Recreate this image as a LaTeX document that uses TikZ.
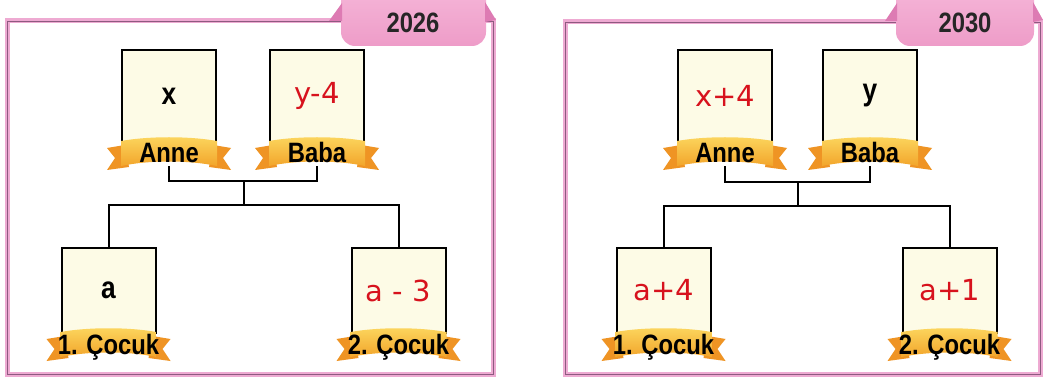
\documentclass[tikz,border=0pt]{standalone}
\usepackage{fontspec}
\newfontfamily\labelfont[FakeStretch=0.85]{Liberation Sans}
\newfontfamily\handfont{DejaVu Sans}
\usepackage{tikz}

\definecolor{framepink}{HTML}{EEAAD2}
\definecolor{framedark}{HTML}{8E5A80}
\definecolor{tabpink}{HTML}{EE9CC8}
\definecolor{tabtop}{HTML}{F6B9DA}
\definecolor{tabdark}{HTML}{DD7BB3}
\definecolor{boxfill}{HTML}{FDFBE6}
\definecolor{ribbontop}{HTML}{FCD65E}
\definecolor{ribbonbot}{HTML}{F2A52B}
\definecolor{ribbondark}{HTML}{EF9424}
\definecolor{handred}{HTML}{D7121D}

\begin{document}
\begin{tikzpicture}
            [x=1pt,y=-1pt,
            frame/.style={draw=framepink,line width=5pt},
            frameline/.style={draw=framedark,line width=0.8pt},
            box/.style={draw,line width=2pt,fill=boxfill,minimum width=94pt,minimum height=92pt,inner sep=0pt,
              font=\labelfont\bfseries\fontsize{31}{32}\selectfont},
            kidbox/.style={box,minimum height=85pt},
            hand/.style={font=\handfont\fontsize{29}{30}\selectfont,text=handred},
            lbl/.style={font=\labelfont\bfseries\fontsize{28}{30}\selectfont,text height=20pt,text depth=0pt,inner sep=3pt},
            yearlbl/.style={font=\labelfont\bfseries\fontsize{28}{30}\selectfont,text=black!85},
            link/.style={draw,line width=2pt},
            ribbon/.pic={
              \fill[ribbondark] (-44,2) -- (-62,5) -- (-54,15) -- (-62,27) -- (-40,24) -- cycle;
              \fill[ribbondark] (44,2) -- (62,5) -- (54,15) -- (62,27) -- (40,24) -- cycle;
              \shade[top color=ribbontop,bottom color=ribbonbot] (-48,-2) .. controls (-20,-7) and (20,-7) .. (48,-2)
                -- (48,23) .. controls (20,17) and (-20,17) .. (-48,23) -- cycle;
              \node[lbl] (-lbl) at (0,10) {#1};
            }]
            \useasboundingbox[fill=white] (0,0) rectangle (1043,379);

            % 2026
            \draw[frame] (7,21) rectangle (493,374);
            \draw[frameline] (7,21) rectangle (493,374);
            \shade[top color=tabtop,bottom color=tabpink,rounded corners=14] (341,-20) rectangle (486,46);
            \fill[tabdark] (329,21) -- (342,3) -- (342,21) -- cycle;
            \fill[tabdark] (485,2) -- (496,20) -- (485,22) -- cycle;
            \node[yearlbl] (l-year) at (413,23) {2026};

            \node[box] (l-anne) at (169,96) {x};
            \node[box,hand] (l-baba) at (317,96) {y-4};
            \node[kidbox] (l-kid1) at (108.5,290.5) {a};
            \node[kidbox,hand] (l-kid2) at (398.5,290.5) {a - 3};
            \pic (l-anne) at (l-anne.south) {ribbon=Anne};
            \pic (l-baba) at (l-baba.south) {ribbon=Baba};
            \pic (l-kid1) at (l-kid1.south) {ribbon=1. Çocuk};
            \pic (l-kid2) at (l-kid2.south) {ribbon=2. Çocuk};

            \coordinate (l-join) at (244,181);
            \coordinate (l-bar) at (244,205);
            \draw[link] (l-anne-lbl.south) |- (l-join) -| (l-baba-lbl.south);
            \draw[link] (l-join) -- (l-bar);
            \draw[link] (l-kid1.north) |- (l-bar) -| (l-kid2.north);

            % 2030
            \draw[frame] (565,22) rectangle (1040,374);
            \draw[frameline] (565,22) rectangle (1040,374);
            \shade[top color=tabtop,bottom color=tabpink,rounded corners=14] (896,-20) rectangle (1034,46);
            \fill[tabdark] (885,21) -- (897,3) -- (897,21) -- cycle;
            \fill[tabdark] (1033,2) -- (1043,20) -- (1033,22) -- cycle;
            \node[yearlbl] (r-year) at (965,23) {2030};

            \node[box,hand] (r-anne) at (725,96) {x+4};
            \node[box] (r-baba) at (870,96) {y};
            \node[kidbox,hand] (r-kid1) at (663.5,290.5) {a+4};
            \node[kidbox,hand] (r-kid2) at (949.5,290.5) {a+1};
            \pic (r-anne) at (r-anne.south) {ribbon=Anne};
            \pic (r-baba) at (r-baba.south) {ribbon=Baba};
            \pic (r-kid1) at (r-kid1.south) {ribbon=1. Çocuk};
            \pic (r-kid2) at (r-kid2.south) {ribbon=2. Çocuk};

            \coordinate (r-join) at (798,182);
            \coordinate (r-bar) at (798,206);
            \draw[link] (r-anne-lbl.south) |- (r-join) -| (r-baba-lbl.south);
            \draw[link] (r-join) -- (r-bar);
            \draw[link] (r-kid1.north) |- (r-bar) -| (r-kid2.north);
        \end{tikzpicture}
\end{document}
